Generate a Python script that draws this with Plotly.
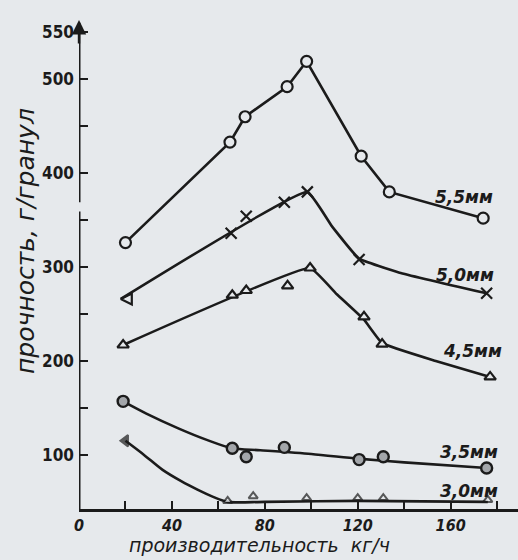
import plotly.graph_objects as go

# ---------------- data ----------------
# 5,5 mm  (open circles)
x_55 = [20, 65, 71.5, 89.6, 98, 121.5, 133.6, 174]
y_55 = [326, 433, 460, 492, 519, 418, 380, 352]

# 5,0 mm  (crosses) + hand-drawn curve
x_50 = [18, 65.5, 72, 88.4, 98.3, 120.6, 175.5]
y_50 = [266, 336, 354, 369, 380, 308, 272]
cx_50 = [18, 98.3, 109, 120.6, 138, 175.5]
cy_50 = [266, 380, 343, 309, 294, 272]

# 4,5 mm  (open triangles) + hand-drawn curve
x_45 = [19, 66, 72, 89.8, 99.5, 122.7, 130.5, 177]
y_45 = [217, 270, 275, 280, 299, 247, 218, 183]
cx_45 = [19, 99.5, 111, 122.7, 130.5, 153.6, 177]
cy_45 = [217, 299, 271, 244, 219, 200, 183]

# 3,5 mm  (circles) + hand-drawn curve
x_35 = [19, 66, 72, 88.4, 120.6, 131, 175.5]
y_35 = [157, 107, 98, 108, 95, 98, 86]
cx_35 = [19, 29, 43, 55, 66, 78, 100, 120, 140, 175.5]
cy_35 = [157, 144, 128, 116, 107, 105, 101, 96, 92, 86]

# 3,0 mm  (triangles) + hand-drawn curve
x_30 = [20, 64, 75, 98, 120, 131, 176]
y_30 = [115, 51, 56, 54, 54, 54, 52]
cx_30 = [20, 28, 36, 44, 51, 58, 64, 80, 120, 176]
cy_30 = [115, 100, 84, 72, 63, 55, 50, 50, 51, 50]

series_labels = ["5,5мм", "5,0мм", "4,5мм", "3,5мм", "3,0мм"]
label_x = [165.7, 166, 169.5, 168, 168]
label_y = [375, 292, 211, 103, 62]

x_tickvals = [0, 20, 40, 60, 80, 100, 120, 140, 160, 180]
x_ticktext = ["0", "", "40", "", "80", "", "120", "", "160", ""]
y_tickvals = [100, 150, 200, 250, 300, 350, 400, 450, 500, 550]
y_ticktext = ["100", "", "200", "", "300", "", "400", "", "500", "550"]

X_RANGE = [0, 189]
Y_RANGE = [42.4, 563]
AXIS_BREAK = [359, 369]

x_title = "производительность  кг/ч"
y_title = "прочность, г/гранул"

# ---------------- style ----------------
BG = "#e6e9ec"
INK = "#1b1b1b"
FONT = "DejaVu Sans"
FONT_C = "DejaVu Sans Condensed, DejaVu Sans"

fig = go.Figure()

line_style = dict(color=INK, width=2.6)

# lines
fig.add_trace(go.Scatter(x=x_55, y=y_55, mode="lines", line=dict(**line_style, shape="linear"), hoverinfo="skip"))
fig.add_trace(go.Scatter(x=cx_50, y=cy_50, mode="lines", line=dict(**line_style, shape="spline", smoothing=0.3), hoverinfo="skip"))
fig.add_trace(go.Scatter(x=cx_45, y=cy_45, mode="lines", line=dict(**line_style, shape="spline", smoothing=0.3), hoverinfo="skip"))
fig.add_trace(go.Scatter(x=cx_35, y=cy_35, mode="lines", line=dict(**line_style, shape="spline", smoothing=0.8), hoverinfo="skip"))
fig.add_trace(go.Scatter(x=cx_30, y=cy_30, mode="lines", line=dict(**line_style, shape="spline", smoothing=0.8), hoverinfo="skip"))

# markers
circ = dict(symbol="circle", size=11, color=BG, line=dict(color=INK, width=2.2))
tri = dict(symbol="triangle-up", size=10, color=BG, line=dict(color=INK, width=2.2))
fig.add_trace(go.Scatter(x=x_55, y=y_55, mode="markers", marker=circ))
fig.add_trace(go.Scatter(x=x_50, y=y_50, mode="markers",
                         marker=dict(symbol=["arrow-left-open"] + ["x-thin-open"] * (len(x_50) - 1),
                                     size=11, color=INK, line=dict(color=INK, width=2.2))))
fig.add_trace(go.Scatter(x=x_45, y=y_45, mode="markers", marker=tri))
fig.add_trace(go.Scatter(x=x_35, y=y_35, mode="markers",
                         marker=dict(symbol="circle", size=11, color="#a3a6aa", line=dict(color=INK, width=2.4))))
fig.add_trace(go.Scatter(x=x_30, y=y_30, mode="markers",
                         marker=dict(symbol=["triangle-left"] + ["triangle-up"] * (len(x_30) - 1),
                                     size=[10] + [8] * (len(x_30) - 1), color=[INK] + [BG] * (len(x_30) - 1),
                                     line=dict(color=INK, width=2))))

annotations = []
for t, lx, ly in zip(series_labels, label_x, label_y):
    annotations.append(dict(x=lx, y=ly, xref="x", yref="y", text=t, showarrow=False,
                            font=dict(family=FONT, size=17, color=INK, style="italic", weight="bold")))

annotations.append(dict(x=(259 - 79) / 439, y=(509 - 545) / 489, xref="paper", yref="paper",
                        text=x_title, showarrow=False, xanchor="center", yanchor="middle",
                        font=dict(family=FONT, size=19, color=INK, style="italic")))
annotations.append(dict(x=(25 - 79) / 439, y=(509 - 241) / 489, xref="paper", yref="paper",
                        text=y_title, showarrow=False, textangle=-90, xanchor="center", yanchor="middle",
                        font=dict(family=FONT, size=25, color=INK, style="italic")))
# arrow head on y axis
annotations.append(dict(x=0, y=Y_RANGE[1], xref="x", yref="y", ax=0, ay=25, axref="pixel", ayref="pixel",
                        text="", showarrow=True, arrowhead=2, arrowsize=1.2, arrowwidth=2.4, arrowcolor=INK))

shapes = [
    dict(type="line", xref="x", yref="y", x0=0, x1=0, y0=Y_RANGE[0], y1=AXIS_BREAK[0],
         line=dict(color=INK, width=3)),
    dict(type="line", xref="x", yref="y", x0=0, x1=0, y0=AXIS_BREAK[1], y1=Y_RANGE[1] - 3,
         line=dict(color=INK, width=3)),
]

fig.update_layout(
    width=518, height=560,
    margin=dict(l=79, r=0, t=20, b=51, pad=0),
    paper_bgcolor=BG, plot_bgcolor=BG,
    showlegend=False,
    annotations=annotations,
    shapes=shapes,
    xaxis=dict(range=X_RANGE, showgrid=False, zeroline=False, showline=True, linecolor=INK, linewidth=3,
               ticks="inside", ticklen=8, tickwidth=2, tickcolor=INK,
               tickvals=x_tickvals, ticktext=x_ticktext, ticklabelstandoff=0,
               tickfont=dict(family=FONT_C, size=16, color=INK, weight="bold", style="italic")),
    yaxis=dict(range=Y_RANGE, showgrid=False, zeroline=False, showline=False,
               ticks="inside", ticklen=9, tickwidth=2, tickcolor=INK,
               tickvals=y_tickvals, ticktext=y_ticktext, ticklabelstandoff=4,
               tickfont=dict(family=FONT_C, size=17, color=INK, weight="bold")),
)

fig.write_html("out.html")
